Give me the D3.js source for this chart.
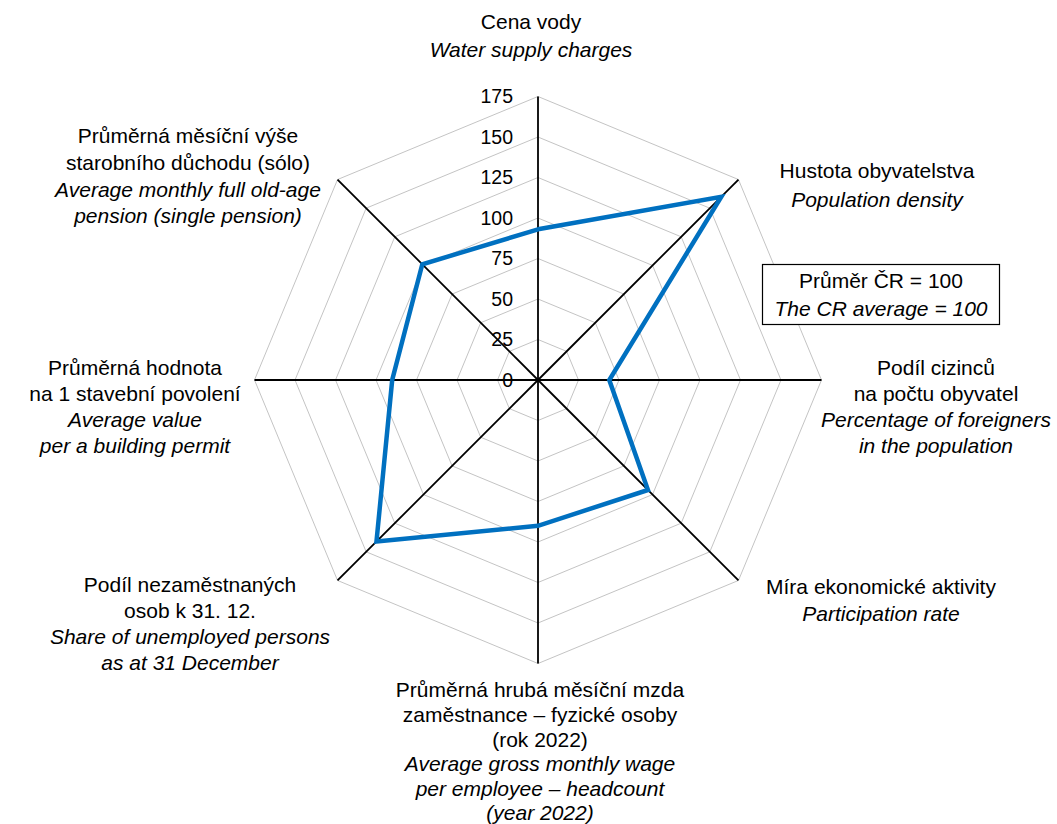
<!DOCTYPE html>
<html>
<head>
<meta charset="utf-8">
<script src="https://cdn.jsdelivr.net/npm/d3@7"></script>
<style>
  html, body { margin: 0; padding: 0; background: #fff; }
  svg { display: block; font-family: Arial, "Liberation Sans", sans-serif; }
</style>
</head>
<body>
<svg id="chart" width="1057" height="824"></svg>
<script>
// ---- data ----
const categoriesCz = [
  ["Cena vody"],
  ["Hustota obyvatelstva"],
  ["Podíl cizinců", "na počtu obyvatel"],
  ["Míra ekonomické aktivity"],
  ["Průměrná hrubá měsíční mzda", "zaměstnance – fyzické osoby", "(rok 2022)"],
  ["Podíl nezaměstnaných", "osob k 31. 12."],
  ["Průměrná hodnota", "na 1 stavební povolení"],
  ["Průměrná měsíční výše", "starobního důchodu (sólo)"]
];
const categoriesEn = [
  ["Water supply charges"],
  ["Population density"],
  ["Percentage of foreigners", "in the population"],
  ["Participation rate"],
  ["Average gross monthly wage", "per employee – headcount", "(year 2022)"],
  ["Share of unemployed persons", "as at 31 December"],
  ["Average value", "per a building permit"],
  ["Average monthly full old-age", "pension (single pension)"]
];
const values = [93, 160, 44, 96, 90, 141, 90, 101];
const tickValues = [0, 25, 50, 75, 100, 125, 150, 175];
const boxLines = ["Průměr ČR = 100", "The CR average = 100"];

// ---- layout ----
const cx = 538, cy = 380, R = 283.5;
const svg = d3.select("#chart");
const r = d3.scaleLinear().domain([0, 175]).range([0, R]);
const n = categoriesCz.length;
const ang = d3.scaleLinear().domain([0, n]).range([0, 2 * Math.PI]);
const pt = (i, v) => [cx + r(v) * Math.sin(ang(i)), cy - r(v) * Math.cos(ang(i))];

const g = svg.append("g");

// grid rings (octagons)
tickValues.filter(t => t > 0).forEach(t => {
  g.append("path")
    .attr("d", d3.line()(d3.range(n).map(i => pt(i, t))) + "Z")
    .attr("fill", "none")
    .attr("stroke", "#c4c4c4")
    .attr("stroke-width", 1);
});

// axes
d3.range(n).forEach(i => {
  const [x, y] = pt(i, 175);
  g.append("line")
    .attr("x1", cx).attr("y1", cy).attr("x2", x).attr("y2", y)
    .attr("stroke", "#000").attr("stroke-width", 1.8);
});

// tick labels
g.selectAll("text.tick").data(tickValues).enter().append("text")
  .attr("class", "tick")
  .attr("x", cx - 25)
  .attr("y", d => cy - r(d))
  .attr("dy", "0.35em")
  .attr("text-anchor", "end")
  .attr("font-size", 19.5)
  .attr("fill", "#000")
  .text(d => d);

// series
g.append("path")
  .datum(values)
  .attr("d", d3.line().x((d, i) => pt(i, d)[0]).y((d, i) => pt(i, d)[1]).curve(d3.curveLinearClosed))
  .attr("fill", "none")
  .attr("stroke", "#0070c0")
  .attr("stroke-width", 4.5)
  .attr("stroke-linejoin", "miter");

// category labels: [centerX, firstLineY, lineHeight]
const labelPos = [
  [531, 22, 28], [877, 171, 29], [936, 368, 26], [881, 587, 27],
  [540, 690, 24.6], [190, 585, 26], [135, 368, 26], [188, 136, 26.7]
];
categoriesCz.forEach((cz, i) => {
  const lines = cz.map(t => ({t, it: false})).concat(categoriesEn[i].map(t => ({t, it: true})));
  const t = g.append("text")
    .attr("text-anchor", "middle")
    .attr("font-size", 21)
    .attr("fill", "#000");
  lines.forEach((l, k) => {
    t.append("tspan")
      .attr("x", labelPos[i][0])
      .attr("y", labelPos[i][1] + k * labelPos[i][2])
      .attr("dy", "0.35em")
      .attr("font-style", l.it ? "italic" : "normal")
      .text(l.t);
  });
});

// box annotation
g.append("rect")
  .attr("x", 762.5).attr("y", 264.5).attr("width", 237).attr("height", 60)
  .attr("fill", "#fff").attr("stroke", "#000").attr("stroke-width", 1.2);
boxLines.forEach((s, k) => {
  g.append("text")
    .attr("x", 881).attr("y", 281 + k * 28)
    .attr("dy", "0.35em")
    .attr("text-anchor", "middle")
    .attr("font-size", 21)
    .attr("font-style", k === 1 ? "italic" : "normal")
    .text(s);
});
</script>
</body>
</html>
